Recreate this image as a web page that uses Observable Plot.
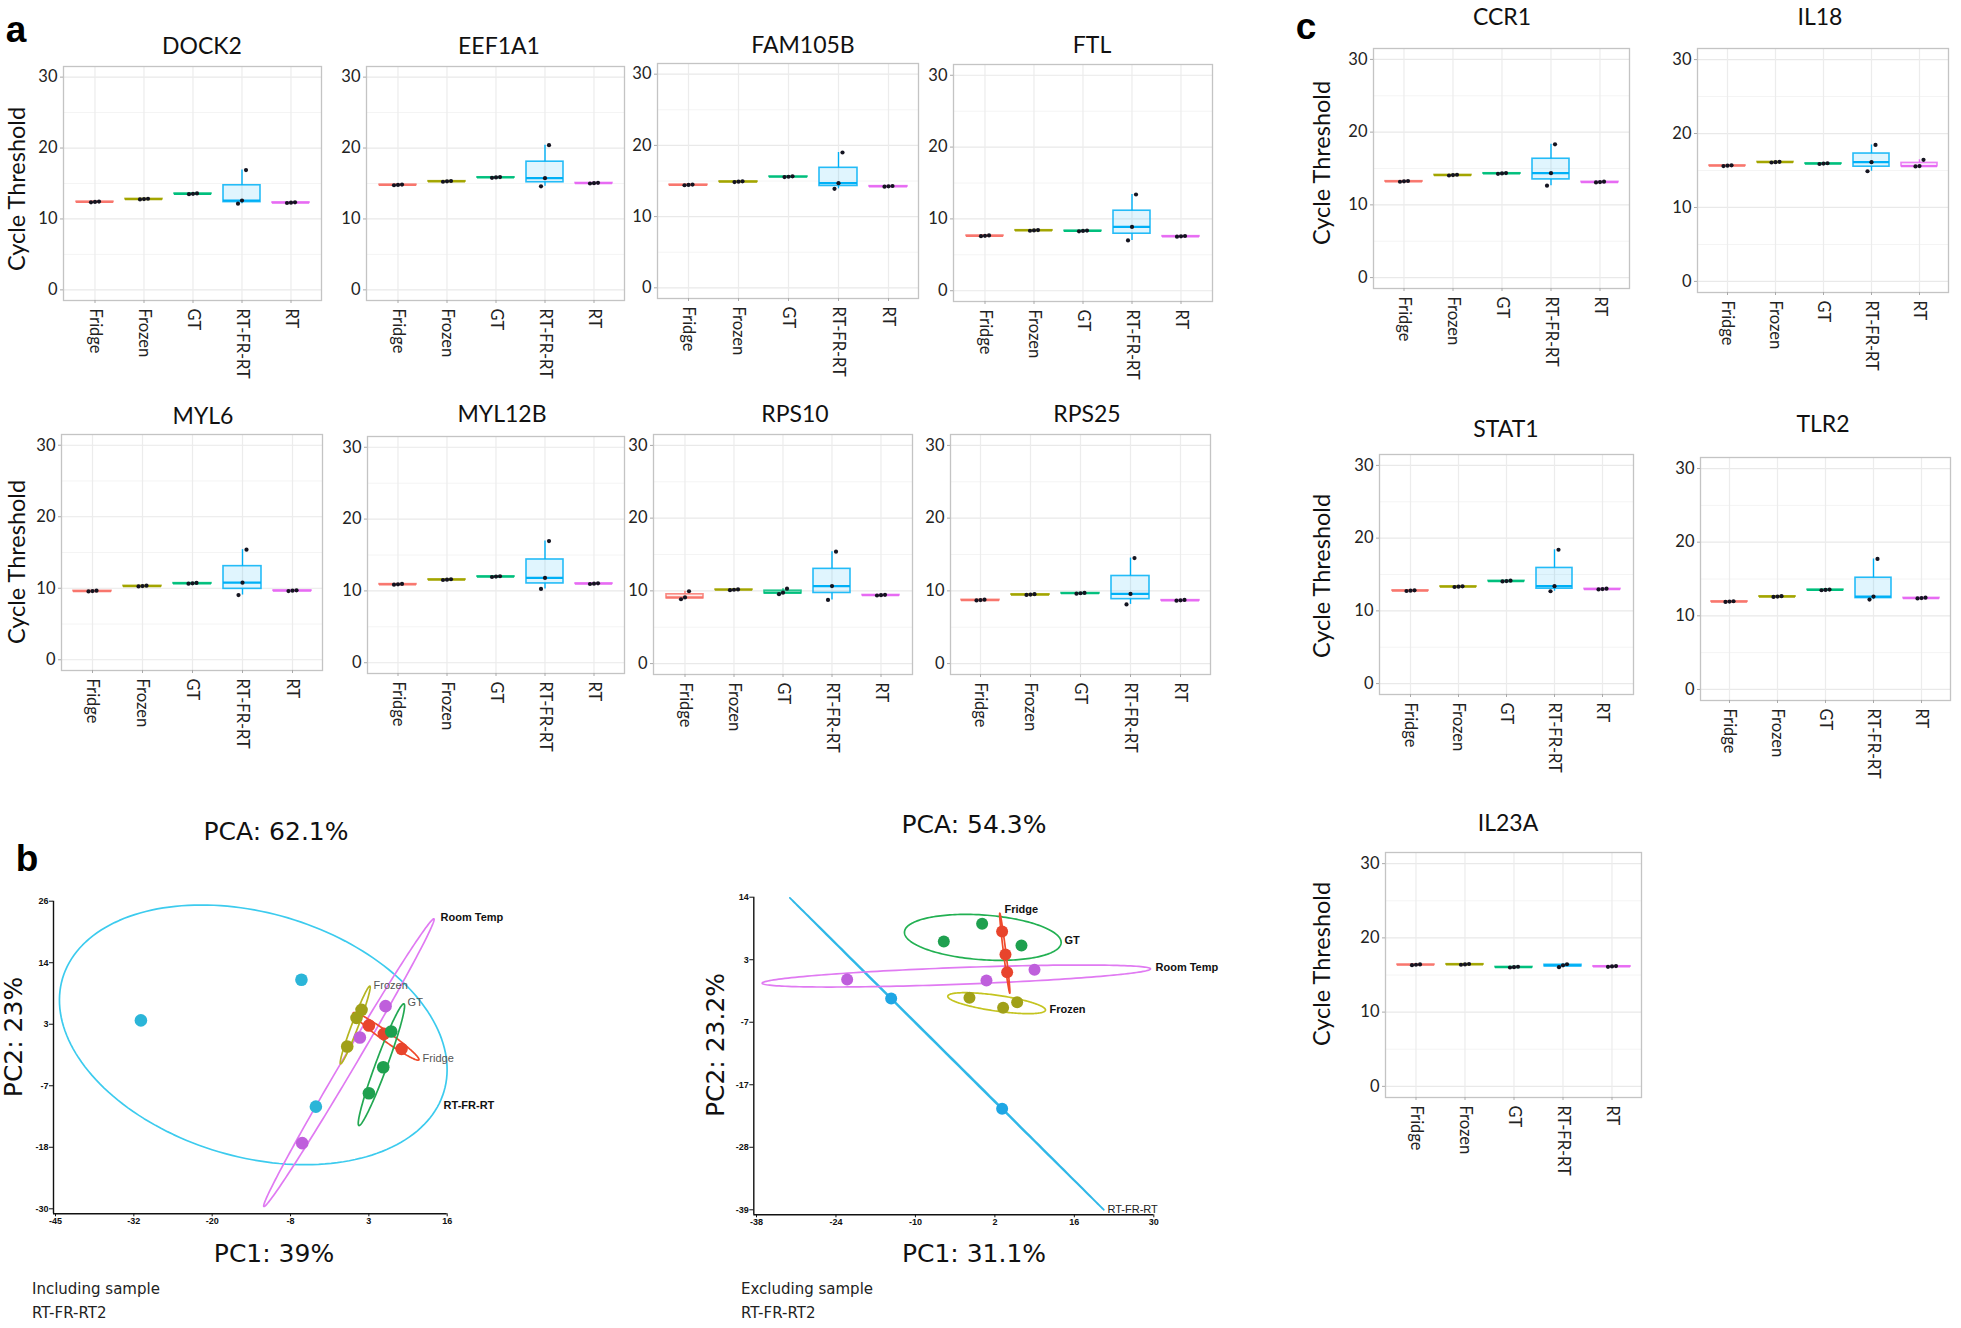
<!DOCTYPE html>
<html><head><meta charset="utf-8">
<script src="https://cdn.jsdelivr.net/npm/d3@7"></script>
<script src="https://cdn.jsdelivr.net/npm/@observablehq/plot@0.6"></script>
<style>
html,body{margin:0;padding:0;background:#fff;}
#page{position:relative;width:1961px;height:1328px;overflow:hidden;background:#fff;}
.t{position:absolute;white-space:nowrap;line-height:1;}
.p{position:absolute;}
.p svg{overflow:visible;}
</style></head><body><div id="page"></div>
<script>
// ---------------- DATA ----------------
const groups = ["Fridge", "Frozen", "GT", "RT-FR-RT", "RT"];
const groupColors = ["#F8766D", "#A3A500", "#00BF7D", "#00B0F6", "#E76BF3"];
const ctTicks = [0, 10, 20, 30];
const ctMinor = [5, 15, 25];

// Cycle threshold, 3 samples per group, in group order
const DOCK2   = [[12.35,12.4,12.45],[12.75,12.8,12.85],[13.5,13.55,13.6],[12.15,12.6,16.9],[12.25,12.3,12.35]];
const EEF1A1  = [[14.75,14.8,14.85],[15.25,15.3,15.35],[15.8,15.85,15.9],[14.6,15.75,20.4],[15.0,15.05,15.1]];
const FAM105B = [[14.4,14.45,14.5],[14.85,14.9,14.95],[15.55,15.6,15.65],[13.9,14.7,19.0],[14.2,14.25,14.3]];
const FTL     = [[7.6,7.65,7.7],[8.35,8.4,8.45],[8.27,8.32,8.37],[7.0,8.88,13.4],[7.52,7.57,7.62]];
const MYL6    = [[9.56,9.61,9.66],[10.26,10.31,10.36],[10.64,10.69,10.74],[9.05,10.78,15.4],[9.61,9.66,9.71]];
const MYL12B  = [[10.87,10.92,10.97],[11.52,11.57,11.62],[11.94,11.99,12.04],[10.27,11.81,16.94],[10.96,11.01,11.06]];
const RPS10   = [[8.85,9.1,9.95],[10.1,10.15,10.2],[9.55,9.75,10.3],[8.76,10.66,15.39],[9.36,9.41,9.46]];
const RPS25   = [[8.69,8.74,8.79],[9.44,9.49,9.54],[9.62,9.67,9.72],[8.14,9.58,14.51],[8.65,8.7,8.75]];
const CCR1    = [[13.18,13.23,13.28],[14.04,14.09,14.14],[14.27,14.32,14.37],[12.64,14.36,18.32],[13.09,13.14,13.19]];
const IL18    = [[15.6,15.65,15.7],[16.08,16.13,16.18],[15.88,15.93,15.98],[14.9,16.13,18.46],[15.55,15.6,16.45]];
const STAT1   = [[12.73,12.78,12.83],[13.28,13.33,13.38],[14.05,14.1,14.15],[12.7,13.4,18.4],[12.95,13.0,13.05]];
const TLR2    = [[11.88,11.93,11.98],[12.57,12.62,12.67],[13.47,13.52,13.57],[12.2,12.62,17.72],[12.36,12.41,12.46]];
const IL23A   = [[16.33,16.38,16.43],[16.38,16.43,16.48],[16.01,16.06,16.11],[16.05,16.3,16.45],[16.1,16.15,16.2]];

// PCA groups
const pcaGroups = ["Fridge", "Frozen", "GT", "RT-FR-RT", "Room Temp"];
const pcaPointColorsIncl = ["#e8442c", "#a0a018", "#1fa04f", "#2bb5d8", "#bf5fdc"];
const pcaLineColorsIncl  = ["#f04a2c", "#b5b520", "#22a852", "#3ccbee", "#e07af2"];
const pcaPointColorsExcl = ["#e8442c", "#a0a018", "#1fa04f", "#1ea6e4", "#bf5fdc"];
const pcaLineColorsExcl  = ["#f04a2c", "#c4c420", "#22b052", "#30b8e8", "#e07af2"];

// PCA including sample RT-FR-RT2
const inclGroup = ["RT-FR-RT","RT-FR-RT","RT-FR-RT","Room Temp","Room Temp","Room Temp","Frozen","Frozen","Frozen","Fridge","Fridge","Fridge","GT","GT","GT"];
const inclPC1 = [-31.7, -6.7, -4.45, 6.40, 2.40, -6.58, 2.66, 1.88, 0.43, 3.81, 6.14, 8.89, 7.28, 6.04, 3.81];
const inclPC2 = [4.3, 11.7, -11.4, 6.89, 1.18, -18.05, 6.22, 4.76, -0.46, 3.37, 1.85, -0.88, 2.27, -4.22, -8.95];
// ellipses: major-axis tips [x1,y1,x2,y2] and minor/major ratio
const inclEllGroup = ["RT-FR-RT", "Room Temp", "Frozen", "Fridge", "GT"];
const inclEllTips = [[-43.9, 11.96, 15.5, -8.62], [-12.55, -29.58, 13.93, 22.78], [-0.61, -3.61, 3.96, 10.53], [1.37, 5.67, 11.59, -2.88], [2.25, -14.84, 9.26, 7.31]];
const inclEllRatio = [0.613, 0.04, 0.08, 0.115, 0.09];
const inclLabelText = ["Room Temp", "Frozen", "GT", "Fridge", "RT-FR-RT"];
const inclLabelX = [14.97, 4.53, 9.83, 12.17, 15.44];
const inclLabelY = [23.03, 10.65, 7.55, -2.65, -11.2];
const inclLabelBold = [true, false, false, false, true];
const inclXTicks = [-45, -32.8, -20.6, -8.4, 3.8, 16];
const inclXTickLabels = ["-45", "-32", "-20", "-8", "3", "16"];
const inclYTicks = [-30, -18.8, -7.6, 3.6, 14.8, 26];
const inclYTickLabels = ["-30", "-18", "-7", "3", "14", "26"];

// PCA excluding sample RT-FR-RT2
const exclGroup = ["RT-FR-RT","RT-FR-RT","Room Temp","Room Temp","Room Temp","GT","GT","GT","Frozen","Frozen","Frozen","Fridge","Fridge","Fridge"];
const exclPC1 = [-14.95, 4.04, -22.48, 1.36, 9.58, 0.62, -5.94, 7.35, -1.55, 4.21, 6.61, 4.04, 4.61, 4.90];
const exclPC2 = [-3.18, -21.88, 0.05, -0.12, 1.68, 9.48, 6.49, 5.81, -3.06, -4.76, -3.80, 8.18, 4.28, 1.29];
const exclEllGroup = ["RT-FR-RT", "GT", "Room Temp", "Frozen", "Fridge"];
const exclEllTips = [[-32.30, 13.89, 21.44, -38.99], [-12.67, 8.12, 14.14, 6.26], [-37.03, -0.58, 29.43, 1.85], [-5.26, -2.78, 11.46, -5.15], [3.64, 11.29, 5.35, -2.27]];
const exclEllRatio = [0.002, 0.285, 0.043, 0.16, 0.03];
const exclLabelText = ["Fridge", "GT", "Room Temp", "Frozen", "RT-FR-RT"];
const exclLabelX = [4.44, 14.71, 30.29, 12.15, 22.07];
const exclLabelY = [11.92, 6.66, 2.08, -5.04, -38.95];
const exclLabelBold = [true, true, true, true, false];
const exclXTicks = [-38, -24.4, -10.8, 2.8, 16.4, 30];
const exclXTickLabels = ["-38", "-24", "-10", "2", "16", "30"];
const exclYTicks = [-39, -28.4, -17.8, -7.2, 3.4, 14];
const exclYTickLabels = ["-39", "-28", "-17", "-7", "3", "14"];

// ---------------- LAYOUT ----------------
const page = document.getElementById("page");
function addText(txt, x, y, style, rotate, align) {
  const d = document.createElement("div");
  d.className = "t";
  d.textContent = txt;
  d.style.left = x + "px";
  d.style.top = y + "px";
  Object.assign(d.style, style);
  const tx = align === "left" ? "0" : "-50%";
  d.style.transform = `translate(${tx},-50%)` + (rotate ? ` rotate(${rotate}deg)` : "");
  page.appendChild(d);
}
function place(el, left, top) {
  const w = document.createElement("div");
  w.className = "p";
  w.style.left = left + "px";
  w.style.top = top + "px";
  w.appendChild(el);
  page.appendChild(w);
}

function stats(arr) {
  const s = [...arr].sort((a, b) => a - b);
  return {min: s[0], q1: d3.quantile(s, 0.25), med: d3.quantile(s, 0.5), q3: d3.quantile(s, 0.75), max: s[s.length - 1]};
}

const jitterDx = [-4, 0, 4];
function boxPanel(vals, L, R, T, B) {
  const ml = 46, mr = 4, mt = 4, mb = 84;
  const width = R - L + ml + mr, height = B - T + mt + mb;
  const st = groups.map((g, i) => ({group: g, color: groupColors[i], ...stats(vals[i])}));
  const pts = groups.flatMap((g, i) => vals[i].map((v, j) => ({group: g, v, j})));
  const plot = Plot.plot({
    width, height, marginLeft: ml, marginRight: mr, marginTop: mt, marginBottom: mb,
    style: {fontFamily: "Lato, 'Open Sans', sans-serif", fontSize: "16.5px", color: "#222", background: "transparent"},
    x: {type: "band", domain: groups, paddingInner: 0.25, paddingOuter: 0.225},
    y: {domain: [-1.5, 31.5]},
    color: {type: "identity"},
    marks: [
      Plot.ruleY(ctMinor, {stroke: "#f4f4f4", strokeWidth: 1}),
      Plot.ruleY(ctTicks, {stroke: "#e9e9e9", strokeWidth: 1.2}),
      Plot.ruleX(groups, {stroke: "#ececec", strokeWidth: 1.2}),
      Plot.ruleX(st, {x: "group", y1: "min", y2: "q1", stroke: "color", strokeWidth: 1.4}),
      Plot.ruleX(st, {x: "group", y1: "q3", y2: "max", stroke: "color", strokeWidth: 1.4}),
      Plot.barY(st, {x: "group", y1: "q1", y2: "q3", fill: "color", fillOpacity: 0.12, stroke: "color", strokeOpacity: 0.85, strokeWidth: 1.6}),
      Plot.tickY(st, {x: "group", y: "med", stroke: "color", strokeWidth: 2.2}),
      ...jitterDx.map((dx, j) => Plot.dot(pts.filter(p => p.j === j), {x: "group", y: "v", r: 2.1, fill: "#141420", dx})),
      Plot.frame({stroke: "#c4c4c4", strokeWidth: 1.3}),
      Plot.axisY({ticks: ctTicks, tickSize: 3, tickPadding: 3, stroke: "#aaa", fill: "#222", label: null, fontSize: 16.5}),
      Plot.axisX({tickRotate: 90, tickSize: 3, tickPadding: 5, stroke: "#aaa", fill: "#222", label: null, fontSize: 16.5})
    ]
  });
  place(plot, L - ml, T - mt);
}

const boxLayout = [
  {gene: "DOCK2", vals: DOCK2, L: 63, R: 321, T: 66, B: 300, tx: 202, ty: 45},
  {gene: "EEF1A1", vals: EEF1A1, L: 366, R: 624, T: 66, B: 300, tx: 499, ty: 45},
  {gene: "FAM105B", vals: FAM105B, L: 657, R: 918, T: 63, B: 298, tx: 803, ty: 44},
  {gene: "FTL", vals: FTL, L: 953, R: 1212, T: 64, B: 301, tx: 1092, ty: 44},
  {gene: "MYL6", vals: MYL6, L: 61, R: 322, T: 434, B: 670, tx: 203, ty: 415},
  {gene: "MYL12B", vals: MYL12B, L: 367, R: 624, T: 436, B: 673, tx: 502, ty: 413},
  {gene: "RPS10", vals: RPS10, L: 653, R: 912, T: 434, B: 674, tx: 795, ty: 413},
  {gene: "RPS25", vals: RPS25, L: 950, R: 1210, T: 434, B: 674, tx: 1087, ty: 413},
  {gene: "CCR1", vals: CCR1, L: 1373, R: 1629, T: 48, B: 288, tx: 1502, ty: 16},
  {gene: "IL18", vals: IL18, L: 1697, R: 1948, T: 48, B: 292, tx: 1820, ty: 16},
  {gene: "STAT1", vals: STAT1, L: 1379, R: 1633, T: 454, B: 694, tx: 1506, ty: 428},
  {gene: "TLR2", vals: TLR2, L: 1700, R: 1950, T: 457, B: 700, tx: 1823, ty: 423},
  {gene: "IL23A", vals: IL23A, L: 1385, R: 1641, T: 852, B: 1097, tx: 1508, ty: 822}
];
const titleStyle = {fontFamily: "Lato, sans-serif", fontSize: "23px", color: "#111"};
for (const p of boxLayout) {
  boxPanel(p.vals, p.L, p.R, p.T, p.B);
  addText(p.gene, p.tx, p.ty, titleStyle);
}
const ylabStyle = {fontFamily: "Lato, sans-serif", fontSize: "23.5px", color: "#111"};
[[17, 189], [17, 562], [1322, 163], [1322, 576], [1322, 964]].forEach(([x, y]) => addText("Cycle Threshold", x, y, ylabStyle, -90));

const letterStyle = {fontFamily: "'Liberation Sans', Arial, sans-serif", fontSize: "37px", fontWeight: "bold", color: "#000"};
addText("a", 16, 29, letterStyle);
addText("b", 27, 858, letterStyle);
addText("c", 1306, 26, letterStyle);

// ---------------- PCA ----------------
function ellipsePoints(tips, ratio, kx, ky, id, n = 180) {
  const [x1, y1, x2, y2] = tips;
  const ax = x1 * kx, ay = y1 * ky, bx = x2 * kx, by = y2 * ky;
  const cx = (ax + bx) / 2, cy = (ay + by) / 2, ux = (bx - ax) / 2, uy = (by - ay) / 2;
  const vx = -uy * ratio, vy = ux * ratio;
  return d3.range(n + 1).map(k => {
    const t = 2 * Math.PI * k / n;
    return {id, x: (cx + ux * Math.cos(t) + vx * Math.sin(t)) / kx, y: (cy + uy * Math.cos(t) + vy * Math.sin(t)) / ky};
  });
}

function pcaChart(cfg) {
  const {left, top, width, height, ml, mt, mr, mb, xDomain, xRange, yDomain, yRange, group, pc1, pc2,
    ellGroup, ellTips, ellRatio, labText, labX, labY, labBold, xTicks, xTickLabels, yTicks, yTickLabels,
    pointColors, lineColors, r} = cfg;
  const kx = (xRange[1] - xRange[0]) / (xDomain[1] - xDomain[0]);
  const ky = (yRange[0] - yRange[1]) / (yDomain[1] - yDomain[0]);
  const pcol = g => pointColors[pcaGroups.indexOf(g)];
  const lcol = g => lineColors[pcaGroups.indexOf(g)];
  const ell = ellGroup.flatMap((g, i) => ellipsePoints(ellTips[i], ellRatio[i], kx, ky, g).map(d => ({...d, c: lcol(g)})));
  const pts = group.map((g, i) => ({g, x: pc1[i], y: pc2[i], c: pcol(g)}));
  const labs = labText.map((t, i) => ({t, x: labX[i], y: labY[i], bold: labBold[i]}));
  const xl = new Map(xTicks.map((v, i) => [v, xTickLabels[i]]));
  const yl = new Map(yTicks.map((v, i) => [v, yTickLabels[i]]));
  const plot = Plot.plot({
    width, height, marginLeft: ml, marginRight: mr, marginTop: mt, marginBottom: mb,
    style: {fontFamily: "'Liberation Sans', Arial, sans-serif", fontSize: "9px", color: "#000", background: "transparent"},
    x: {domain: xDomain, range: xRange},
    y: {domain: yDomain, range: yRange},
    color: {type: "identity"},
    marks: [
      Plot.line(ell, {x: "x", y: "y", z: "id", stroke: "c", strokeWidth: 1.7}),
      Plot.dot(pts, {x: "x", y: "y", r, fill: "c"}),
      Plot.text(labs.filter(d => d.bold), {x: "x", y: "y", text: "t", textAnchor: "start", fontSize: 11, fontWeight: "bold", fill: "#111"}),
      Plot.text(labs.filter(d => !d.bold), {x: "x", y: "y", text: "t", textAnchor: "start", fontSize: 11, fill: cfg.plainLabelColor}),
      Plot.ruleX([xDomain[0]], {dx: -(xRange[0] - ml), stroke: "#111", strokeWidth: 1.4}),
      Plot.ruleY([yDomain[0]], {dy: (height - mb) - yRange[0], stroke: "#111", strokeWidth: 1.4}),
      Plot.axisY({anchor: "left", ticks: yTicks, tickFormat: d => yl.get(d), tickSize: 4, tickPadding: 1, stroke: "#111", fill: "#111", fontSize: 9, fontWeight: "bold", label: null}),
      Plot.axisX({anchor: "bottom", ticks: xTicks, tickFormat: d => xl.get(d), tickSize: 3, tickPadding: 1, stroke: "#111", fill: "#111", fontSize: 9, fontWeight: "bold", label: null})
    ]
  });
  place(plot, left, top);
}

pcaChart({
  left: 0, top: 880, width: 520, height: 360, ml: 53, mt: 20.7, mr: 73.3, mb: 26.7,
  xDomain: [-45, 16], xRange: [55, 446.7], yDomain: [-30, 26], yRange: [328.3, 20.7],
  group: inclGroup, pc1: inclPC1, pc2: inclPC2, ellGroup: inclEllGroup, ellTips: inclEllTips, ellRatio: inclEllRatio,
  labText: inclLabelText, labX: inclLabelX, labY: inclLabelY, labBold: inclLabelBold,
  xTicks: inclXTicks, xTickLabels: inclXTickLabels, yTicks: inclYTicks, yTickLabels: inclYTickLabels,
  pointColors: pcaPointColorsIncl, lineColors: pcaLineColorsIncl, r: 6.3, plainLabelColor: "#555"
});
pcaChart({
  left: 720, top: 880, width: 510, height: 360, ml: 33.3, mt: 16.7, mr: 76.7, mb: 25.7,
  xDomain: [-38, 30], xRange: [36, 433.3], yDomain: [-39, 14], yRange: [329.3, 16.7],
  group: exclGroup, pc1: exclPC1, pc2: exclPC2, ellGroup: exclEllGroup, ellTips: exclEllTips, ellRatio: exclEllRatio,
  labText: exclLabelText, labX: exclLabelX, labY: exclLabelY, labBold: exclLabelBold,
  xTicks: exclXTicks, xTickLabels: exclXTickLabels, yTicks: exclYTicks, yTickLabels: exclYTickLabels,
  pointColors: pcaPointColorsExcl, lineColors: pcaLineColorsExcl, r: 6, plainLabelColor: "#222"
});

const pcaTitle = {fontFamily: "'DejaVu Sans', Verdana, sans-serif", fontSize: "25px", color: "#111"};
const noteStyle = {fontFamily: "'DejaVu Sans', Verdana, sans-serif", fontSize: "15px", color: "#222"};
addText("PCA: 62.1%", 276, 831, pcaTitle);
addText("PC1: 39%", 274, 1253, pcaTitle);
addText("PC2: 23%", 13, 1037, pcaTitle, -90);
addText("Including sample", 32, 1289, noteStyle, 0, "left");
addText("RT-FR-RT2", 32, 1313, noteStyle, 0, "left");
addText("PCA: 54.3%", 974, 824, pcaTitle);
addText("PC1: 31.1%", 974, 1253, pcaTitle);
addText("PC2: 23.2%", 715, 1045, pcaTitle, -90);
addText("Excluding sample", 741, 1289, noteStyle, 0, "left");
addText("RT-FR-RT2", 741, 1313, noteStyle, 0, "left");
</script></body></html>
